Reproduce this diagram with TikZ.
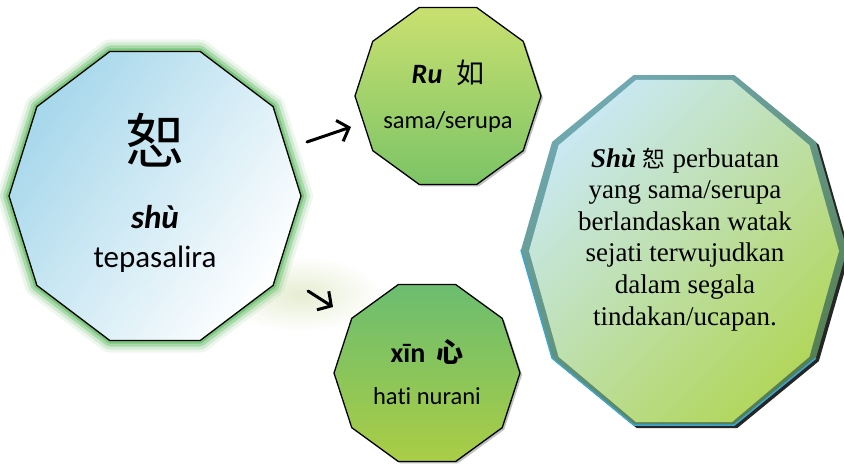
\documentclass[tikz,border=0pt]{standalone}
\usepackage{fontspec}
\newfontfamily\calfont{Carlito}[Ligatures=NoCommon]
\newfontfamily\cjkfont{Noto Sans CJK SC}
\newfontfamily\serfont{Liberation Serif}
\usetikzlibrary{arrows.meta}
\definecolor{lblue}{HTML}{A6D7EB}
\definecolor{glowgreen}{HTML}{5CBA5E}
\definecolor{gtopA}{HTML}{C9E070}
\definecolor{gbotA}{HTML}{7CC466}
\definecolor{gtopB}{HTML}{6BBD70}
\definecolor{gbotB}{HTML}{AACD45}
\definecolor{rblue}{HTML}{3AA6D6}
\definecolor{rtop}{HTML}{6FA8B0}
\definecolor{rdark}{HTML}{557F50}
\definecolor{rinA}{HTML}{C9E8F2}
\definecolor{rinB}{HTML}{B2D65C}
\definecolor{pale}{HTML}{E6EDD2}
\newcommand\deca[2]{(0:#1 and #2) \foreach \a in {36,72,...,324}{-- (\a:#1 and #2)} -- cycle}
\begin{document}
\begin{tikzpicture}[x=1pt,y=-1pt,
  arr/.style={line width=3pt,-{Straight Barb[length=10pt,width=22pt]},line cap=round},
  outl/.style={draw=black,line width=1.3pt,line join=miter}]
\useasboundingbox (0,0) rectangle (844,464);
\fill[white] (0,0) rectangle (844,464);
% pale blob near arrow 2
\shade[inner color=pale,outer color=white] (300,294) ellipse (82 and 38);
% left polygon
\begin{scope}[shift={(155,196)}]
  \draw[black!12,line width=1pt] (252:146 and 152) -- ++(-30,32);
  \draw[black!12,line width=1pt] (288:146 and 152) -- ++(30,32);
  \foreach \w/\o in {24/0.10,18/0.18,12/0.35,6/0.6}
    \draw[glowgreen,line width=\w pt,opacity=\o,line join=round] \deca{146}{152};
  \shade[top color=lblue,middle color=lblue!35,bottom color=white,shading angle=55] \deca{146}{152};
  \draw[outl] \deca{146}{152};
\end{scope}
% top middle polygon
\begin{scope}[shift={(448,96)}]
  \fill[black!25] ([shift={(2,2)}]0:93 and 93) \foreach \a in {36,72,...,324}{-- ([shift={(2,2)}]\a:93 and 93)} -- cycle;
  \shade[top color=gtopA,bottom color=gbotA] \deca{93}{93};
  \draw[outl] \deca{93}{93};
\end{scope}
% bottom polygon
\begin{scope}[shift={(427,373)}]
  \fill[black!25] ([shift={(2,2)}]0:93 and 93) \foreach \a in {36,72,...,324}{-- ([shift={(2,2)}]\a:93 and 93)} -- cycle;
  \shade[top color=gtopB,bottom color=gbotB] \deca{93}{93};
  \draw[outl] \deca{93}{93};
\end{scope}
% right polygon
\begin{scope}[shift={(684,250)}]
  \fill[black!85] ([shift={(3,3)}]0:163 and 184) \foreach \a in {36,72,...,324}{-- ([shift={(3,3)}]\a:163 and 184)} -- cycle;
  \shade[top color=rtop,bottom color=rdark,shading angle=35] \deca{163}{184};
  \draw[rblue,line width=1.5pt,line join=round] (180:163 and 184) -- (144:163 and 184) -- (108:163 and 184) -- (72:163 and 184) -- (36:163 and 184);
  \shade[top color=rinA,bottom color=rinB,shading angle=45] ([yshift=-1]0:155 and 180) \foreach \a in {36,72,...,324}{-- ([yshift=-1]\a:155 and 180)} -- cycle;
\end{scope}
% texts
\node[anchor=center] (shuzi) at (155,140) {\cjkfont\fontsize{60}{60}\selectfont 恕};
\node[anchor=base] (shu) at (155,228) {\calfont\bfseries\itshape\fontsize{33}{33}\selectfont shù};
\node[anchor=base] (tepa) at (155,267) {\calfont\fontsize{31}{31}\selectfont tepasalira};
\node[anchor=base] (ru) at (448,83) {\calfont\bfseries\itshape\fontsize{28}{28}\selectfont Ru\hspace{0.5em}{\cjkfont\mdseries\upshape\fontsize{28}{28}\selectfont 如}};
\node[anchor=base] (sama) at (448,128) {\calfont\fontsize{24.5}{24.5}\selectfont sama/serupa};
\node[anchor=base] (xin) at (427,362) {\calfont\bfseries\fontsize{28}{28}\selectfont xīn\hspace{0.4em}{\cjkfont\fontsize{27}{27}\selectfont 心}};
\node[anchor=base] (hati) at (427,404) {\calfont\fontsize{24.5}{24.5}\selectfont hati nurani};
\node[anchor=base,align=center,inner sep=0pt,font={\serfont\fontsize{27}{31.6}\selectfont}] (desc) at (685,325) {%
  {\bfseries\itshape Shù} {\cjkfont\fontsize{23}{23}\selectfont 恕} perbuatan\\
  yang sama/serupa\\ berlandaskan watak\\ sejati terwujudkan\\ dalam segala\\ tindakan/ucapan.};
% arrows
\coordinate (a1s) at (307,142);
\coordinate (a1e) at (351,127);
\coordinate (a2s) at (308,291);
\coordinate (a2e) at (333,307);
\draw[arr] (a1s) -- (a1e);
\draw[arr] (a2s) -- (a2e);
\end{tikzpicture}
\end{document}
